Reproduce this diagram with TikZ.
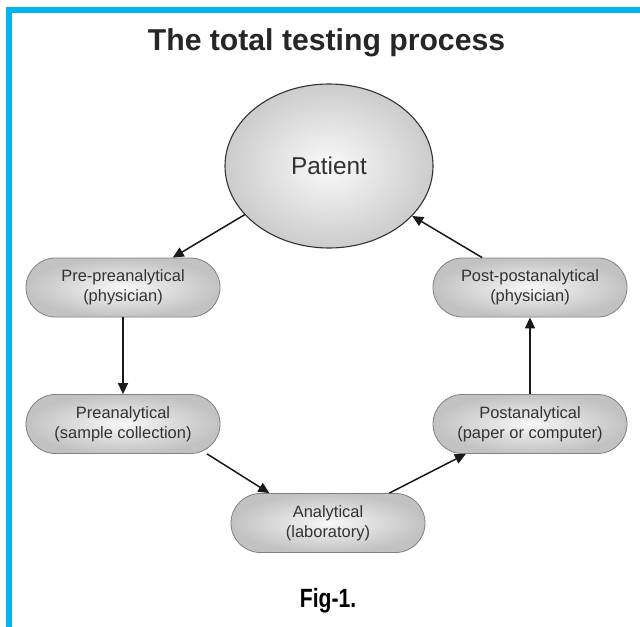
\documentclass[tikz,border=0pt]{standalone}
\usepackage{fontspec}
\setmainfont{Liberation Sans}
\usetikzlibrary{shapes.geometric,shapes.misc,arrows.meta}
\definecolor{framecyan}{RGB}{0,180,240}
\definecolor{txtgray}{RGB}{50,50,50}
\tikzset{
  pill/.style={rounded rectangle, draw=black!50, line width=0.8bp,
    inner color=black!3, outer color=black!24,
    minimum width=194bp, minimum height=59bp, inner sep=0pt,
    align=center, text=txtgray,
    font=\fontsize{16.5}{20}\selectfont},
  flow/.style={draw=black!90, line width=1.5bp,
    -{Triangle[length=11bp,width=10bp]}},
}
\begin{document}
\begin{tikzpicture}[x=1bp,y=-1bp]
\useasboundingbox (0,0) rectangle (640,627);
\fill[white] (0,0) rectangle (640,627);
% frame
\fill[framecyan] (6,7.5) rectangle (640,13);
\fill[framecyan] (6,7.5) rectangle (12,627);
% title
\node[anchor=base, text=black!85, font=\fontsize{30.3}{34}\selectfont\bfseries] (title) at (326.5,51) {The total testing process};
% patient
\node[ellipse, draw=black!80, line width=1.1bp, inner color=black!2, outer color=black!20,
  minimum width=208bp, minimum height=164bp, inner sep=0pt, text=txtgray,
  font=\fontsize{24.5}{28}\selectfont] (patient) at (329,166) {Patient};
% stages
\node[pill] (prepre) at (123,287.5) {Pre-preanalytical\\(physician)};
\node[pill] (pre) at (123,424) {Preanalytical\\(sample collection)};
\node[pill] (ana) at (328,523) {Analytical\\(laboratory)};
\node[pill] (post) at (530,424) {Postanalytical\\(paper or computer)};
\node[pill] (postpost) at (530,287.5) {Post-postanalytical\\(physician)};
% arrows
\draw[flow] (patient.210) -- (prepre.31);
\draw[flow] (prepre.south) -- (pre.north);
\draw[flow] ([xshift=84bp]pre.south) -- (ana.153);
\draw[flow] (ana.26) -- (post.205);
\draw[flow] (post.north) -- (postpost.south);
\draw[flow] (postpost.148) -- (patient.-31);
% caption
\node[anchor=base, text=black] (cap) at (328,607) {\scalebox{0.8}[1]{\fontsize{26.5}{30}\selectfont\bfseries Fig-1.}};
\end{tikzpicture}
\end{document}
